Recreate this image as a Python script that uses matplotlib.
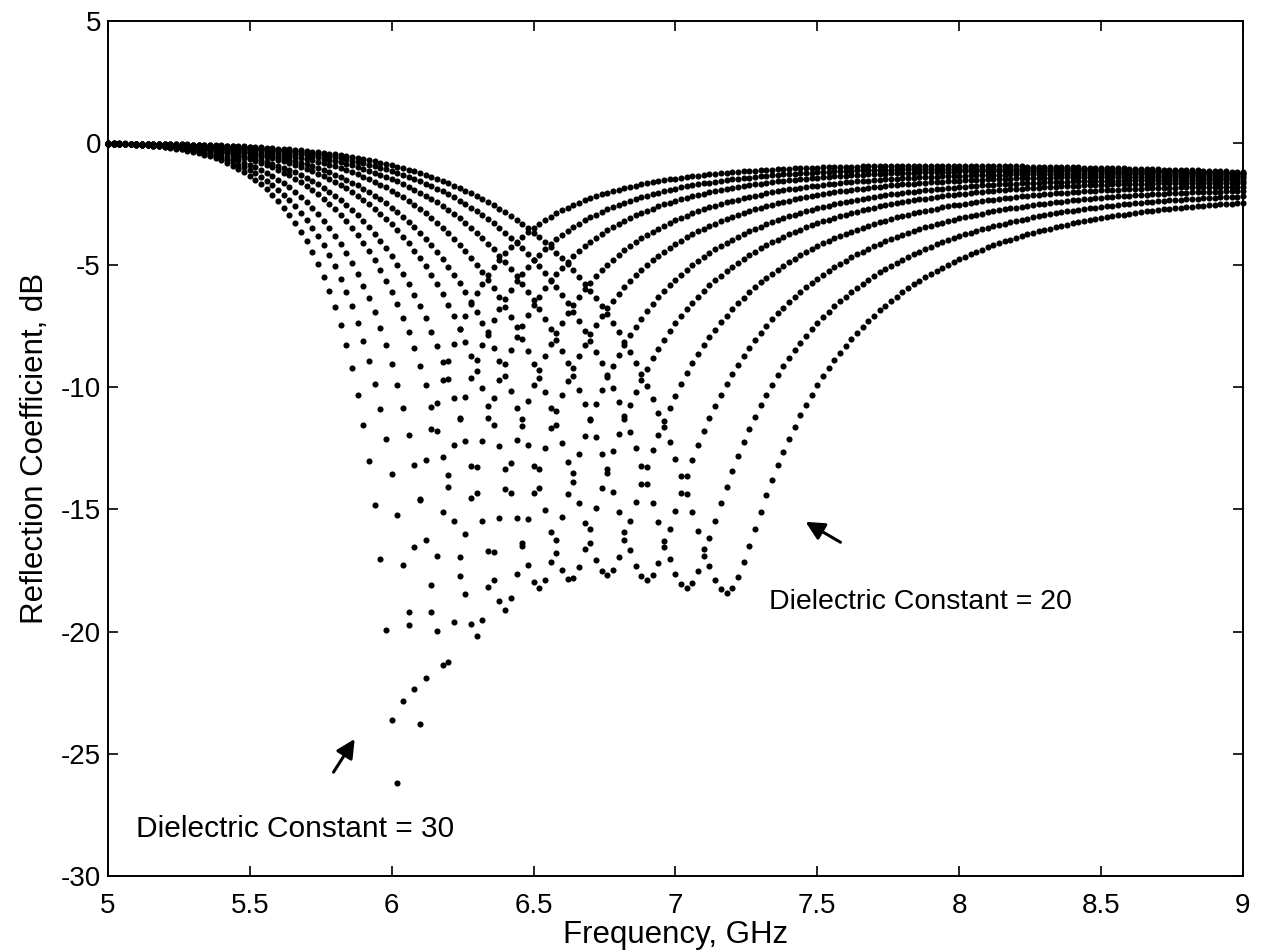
import numpy as np
import matplotlib
matplotlib.use("Agg")
import matplotlib.pyplot as plt

plt.rcParams['font.family'] = ['Liberation Sans', 'DejaVu Sans']
plt.rcParams['axes.unicode_minus'] = False

# one dotted curve per dielectric constant (20 ... 30)
eps_r = [20, 21, 22, 23, 24, 25, 26, 27, 28, 29, 30]
# frequency of the dip, GHz
f_res = [7.18, 7.04, 6.90, 6.76, 6.63, 6.52, 6.40, 6.30, 6.19, 6.10, 6.02]
# lowest value of each curve, dB
dip_db = [-18.4, -18.2, -17.9, -17.7, -17.9, -18.2, -19.1, -20.2, -21.6, -23.8, -26.2]
# half widths of the notch below / above the dip, GHz
w_low = [0.90, 0.85, 0.80, 0.75, 0.71, 0.66, 0.62, 0.57, 0.53, 0.49, 0.45]
w_high = [1.10, 1.04, 0.98, 0.92, 0.86, 0.81, 0.75, 0.69, 0.63, 0.58, 0.52]
# feed loss growing with frequency, dB per GHz^2
feed_loss = 0.0625

# frequency sweep of the simulation, GHz
freq = np.arange(5.0, 9.0 + 1e-9, 0.02)

fig = plt.figure(figsize=(12.69, 9.51), dpi=100)
ax = fig.add_axes([0.085, 0.079, 0.8945, 0.899])

for i in range(len(eps_r)):
    loss0 = feed_loss * (f_res[i] - 5) ** 2
    a0 = 1 - 10 ** ((dip_db[i] + loss0) / 10.0)
    d = freq - f_res[i]
    absorb = np.where(d < 0,
                      a0 * np.exp(-(d / w_low[i]) ** 2),
                      a0 / (1 + np.abs(d / w_high[i]) ** 1.8))
    refl = 10 * np.log10(1 - absorb) - feed_loss * (freq - 5) ** 2
    ax.plot(freq, refl, 'o', color='k', ms=4.4, mew=0, clip_on=False)

ax.set_xlim(5, 9)
ax.set_ylim(-30, 5)
ax.set_xticks(np.arange(5, 9.01, 0.5))
ax.set_xticklabels(['5', '5.5', '6', '6.5', '7', '7.5', '8', '8.5', '9'])
ax.set_yticks(np.arange(-30, 5.1, 5))
ax.tick_params(direction='in', length=7, width=1.2, top=True, right=True,
               labelsize=20, pad=5)
ax.tick_params(axis='x', pad=12)
for s in ax.spines.values():
    s.set_linewidth(1.4)

ax.set_xlabel('Frequency, GHz', fontsize=22.5, labelpad=1)
ax.set_ylabel('Reflection Coefficient, dB', fontsize=22.5, labelpad=8)

ax.annotate('', xy=(7.45, -15.45), xytext=(7.59, -16.4),
            arrowprops=dict(arrowstyle='-|>', color='k', lw=2.2, mutation_scale=28))
ax.text(7.33, -18.8, 'Dielectric Constant = 20', fontsize=20.5, va='center')
ax.annotate('', xy=(5.875, -24.3), xytext=(5.79, -25.85),
            arrowprops=dict(arrowstyle='-|>', color='k', lw=2.2, mutation_scale=28))
ax.text(5.10, -28.1, 'Dielectric Constant = 30', fontsize=21.5, va='center')

fig.savefig('out.png', dpi=100)
